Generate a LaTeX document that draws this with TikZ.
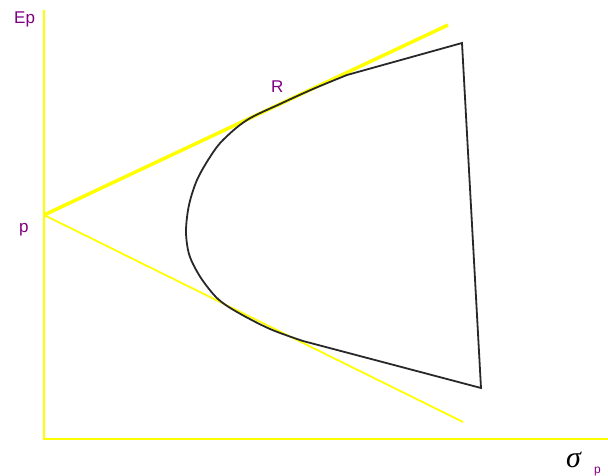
\documentclass[tikz,border=0pt]{standalone}
\usepackage{fontspec}
\setmainfont{Liberation Sans}
\newfontfamily\gkfont{Liberation Serif}
\definecolor{lab}{RGB}{128,0,128}
\definecolor{ylw}{RGB}{255,255,0}
\definecolor{crv}{RGB}{40,40,40}
\begin{document}
\begin{tikzpicture}[x=1pt,y=-1pt,
  axis/.style={draw=ylw,line width=2.5pt},
  tline/.style={draw=ylw},
  frontier/.style={draw=crv,line width=1.8pt,line join=miter},
  lbl/.style={text=lab,font=\fontsize{17}{17}\selectfont,inner sep=0pt}]
\useasboundingbox (0,0) rectangle (608,476);
% axes
\coordinate (top) at (44,10);
\coordinate (origin) at (44,439);
\coordinate (right) at (608,439);
\draw[axis] (top) -- (origin) -- (right);
% tangent lines
\coordinate (p) at (44,215);
\coordinate (uend) at (448,25);
\coordinate (lend) at (463,422);
\draw[tline,line width=3.5pt] (p) -- (uend);
\draw[tline,line width=1.8pt] (p) -- (lend);
% frontier
\coordinate (A) at (462,43);
\coordinate (B) at (481,388);
\draw[frontier] (A) -- plot[smooth,tension=0.55] coordinates {(347,75) (313,89) (280,104) (247,120) (223,140) (210,157) (197,180) (189,205) (186,230) (188,250) (193,264) (203,281) (218,299) (237,312) (270,329) (303,341)}
  -- (B) -- cycle;
% labels
\node[lbl,anchor=north west] (ep) at (14,12) {Ep};
\node[lbl,anchor=base west] (pl) at (19,233) {p};
\node[lbl,anchor=north west] (r) at (271,81) {R};
\node[inner sep=0pt,anchor=base west] (sig) at (566,467) {\gkfont\itshape\fontsize{30}{30}\selectfont σ};
\node[lbl,anchor=base west,font=\fontsize{12}{12}\selectfont] (sub) at (594,473) {p};
\end{tikzpicture}
\end{document}
